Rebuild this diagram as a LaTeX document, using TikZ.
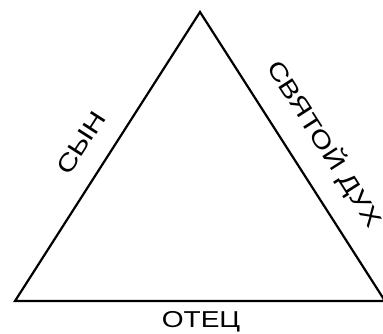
\documentclass[tikz,border=0pt]{standalone}
\usepackage{fontspec}
\setmainfont{Liberation Sans}
\begin{document}
\begin{tikzpicture}[x=1pt,y=-1pt,
  edge/.style={line width=2.2pt,line join=miter},
  lbl/.style={inner sep=0pt}]
\useasboundingbox (0,0) rectangle (383,333);
\clip (0,0) rectangle (383,333);
\coordinate (T) at (200,12);
\coordinate (L) at (15,301);
\coordinate (R) at (385,301);
\draw[edge] (T) -- (L) -- (R) -- cycle;
\node[lbl,anchor=base,font=\fontsize{23}{26}\selectfont] (otec) at (201,327) {\scalebox{1.22}[1]{ОТЕЦ}};
\node[lbl,rotate=57.4,font=\fontsize{24}{27}\selectfont] (syn) at (81,143) {\scalebox{1.25}[1]{СЫН}};
\node[lbl,rotate=-57.4,font=\fontsize{24}{27}\selectfont] (dukh) at (325,144) {\scalebox{1.25}[1]{СВЯТОЙ ДУХ}};
\end{tikzpicture}
\end{document}
